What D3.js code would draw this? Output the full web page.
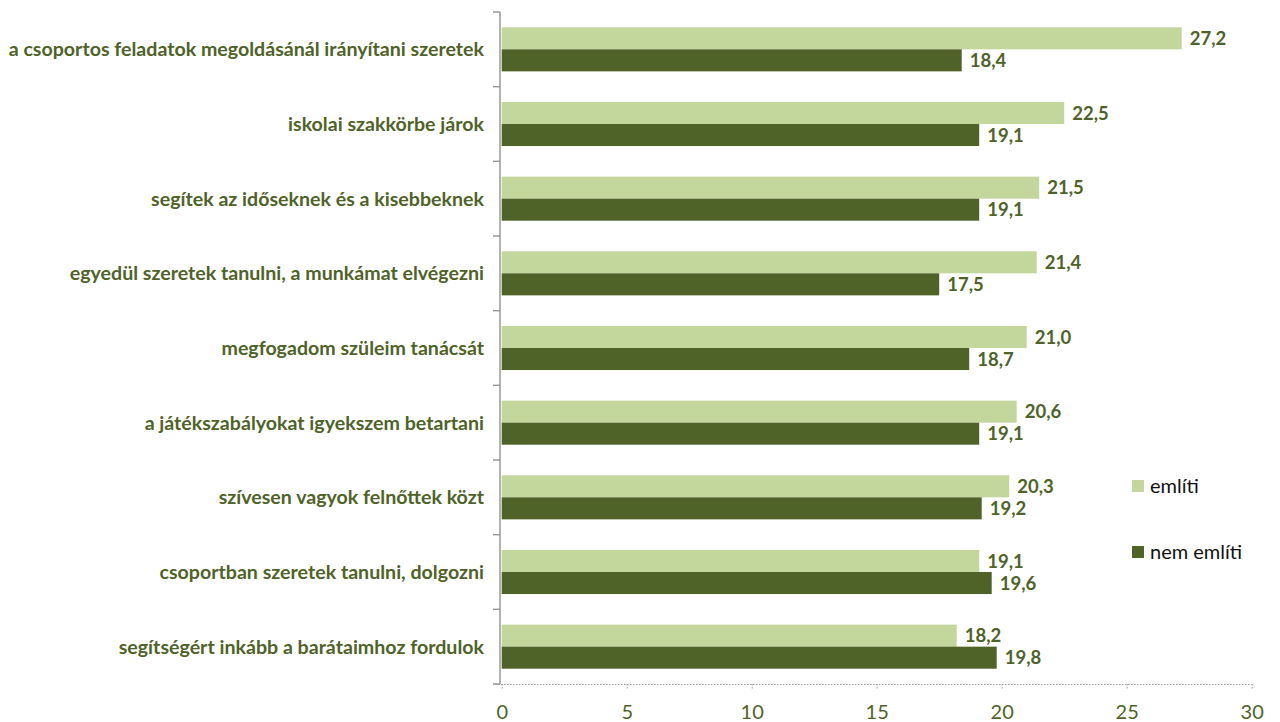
<!DOCTYPE html>
<html><head><meta charset="utf-8">
<script src="https://cdn.jsdelivr.net/npm/d3@7"></script>
<style>
body{margin:0;background:#fff;}
text{font-family:Lato,"Open Sans",sans-serif;}
</style></head>
<body><svg id="c" width="1280" height="722"></svg>
<script>
const categories = [
 "a csoportos feladatok megoldásánál irányítani szeretek",
 "iskolai szakkörbe járok",
 "segítek az időseknek és a kisebbeknek",
 "egyedül szeretek tanulni, a munkámat elvégezni",
 "megfogadom szüleim tanácsát",
 "a játékszabályokat igyekszem betartani",
 "szívesen vagyok felnőttek közt",
 "csoportban szeretek tanulni, dolgozni",
 "segítségért inkább a barátaimhoz fordulok"
];
const emliti = [27.2,22.5,21.5,21.4,21.0,20.6,20.3,19.1,18.2];
const nemEmliti = [18.4,19.1,19.1,17.5,18.7,19.1,19.2,19.6,19.8];
const seriesNames = ["említi","nem említi"];
const xTicks = [0,5,10,15,20,25,30];
const colors = ["#c3d69b","#4f6228"];

const svg = d3.select("#c");
const x = d3.scaleLinear().domain([0,30]).range([501.7,1251.7]);
const y = d3.scaleBand().domain(categories).range([12,684]).paddingInner(0.41).paddingOuter(0.205);
const yOuter = d3.scaleBand().domain(categories).range([12,684]);
const sub = d3.scaleBand().domain([0,1]).range([0,y.bandwidth()]);

// bars
const series = [emliti, nemEmliti];
series.forEach((vals,si)=>{
  svg.append("g").selectAll("rect").data(vals).join("rect")
    .attr("x", x(0)).attr("y",(d,i)=>y(categories[i])+sub(si))
    .attr("width", d=>x(d)-x(0)).attr("height", sub.bandwidth())
    .attr("fill", colors[si]);
  svg.append("g").selectAll("text").data(vals).join("text")
    .attr("x", d=>x(d)+8).attr("y",(d,i)=>y(categories[i])+sub(si)+sub.bandwidth()/2)
    .attr("dy","0.36em").attr("font-size",18.5).attr("font-weight","bold").attr("fill","#4f6228")
    .text(d=>d.toFixed(1).replace(".",","));
});

// left axis
const ga = svg.append("g");
ga.append("line").attr("x1",500).attr("x2",500).attr("y1",12).attr("y2",684).attr("stroke","#999").attr("stroke-width",1.5);
const bounds = categories.map(c=>yOuter(c)).concat([684]);
ga.selectAll("line.t").data(bounds).join("line").attr("class","t")
  .attr("x1",493).attr("x2",500).attr("y1",d=>d).attr("y2",d=>d).attr("stroke","#999").attr("stroke-width",1.5);
ga.selectAll("text").data(categories).join("text")
  .attr("x",484).attr("y",c=>yOuter(c)+yOuter.bandwidth()/2)
  .attr("dy","0.36em").attr("text-anchor","end").attr("font-size",19.6).attr("font-weight","bold").attr("fill","#4f6228")
  .text(c=>c);

// bottom axis
const gb = svg.append("g").attr("transform","translate(0,684)");
const ax = d3.axisBottom(x).tickValues(xTicks).tickSize(6).tickPadding(15).tickFormat(d3.format("d"));
gb.call(ax);
gb.select(".domain").attr("stroke","#999").attr("stroke-dasharray","1.5,1.5").attr("d","M495,0.5H1251.7");
gb.selectAll(".tick line").attr("stroke","#999").attr("stroke-dasharray","1.5,1.5");
gb.selectAll(".tick text").attr("font-size",20).attr("fill","#4f6228").attr("font-family","Lato,'Open Sans',sans-serif");

// legend
const lg = svg.append("g");
seriesNames.forEach((n,i)=>{
  const yy = 486 + i*66;
  lg.append("rect").attr("x",1132).attr("y",yy-6).attr("width",12).attr("height",12).attr("fill",colors[i]);
  lg.append("text").attr("x",1150).attr("y",yy).attr("dy","0.36em").attr("font-size",20).attr("fill","#111").text(n);
});
</script></body></html>
